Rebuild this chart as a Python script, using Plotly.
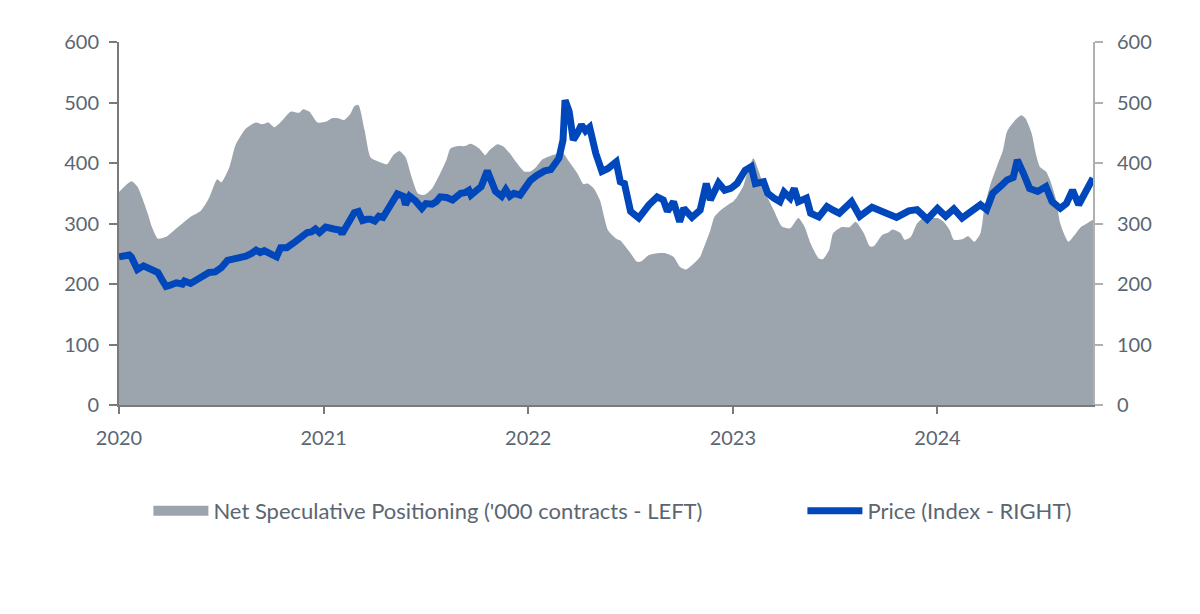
import plotly.graph_objects as go

# net speculative positioning ('000 contracts), x in decimal years
pos_t = [2020.00, 2020.06, 2020.09, 2020.14, 2020.16, 2020.19, 2020.23, 2020.27, 2020.31, 2020.35,
         2020.40, 2020.44, 2020.48, 2020.50, 2020.54, 2020.57, 2020.62, 2020.67, 2020.70, 2020.73,
         2020.76, 2020.80, 2020.84, 2020.88, 2020.90, 2020.93, 2020.97, 2021.01, 2021.04, 2021.07,
         2021.10, 2021.13, 2021.15, 2021.17, 2021.20, 2021.23, 2021.27, 2021.31, 2021.34, 2021.37,
         2021.40, 2021.43, 2021.46, 2021.49, 2021.53, 2021.57, 2021.60, 2021.62, 2021.66, 2021.69,
         2021.72, 2021.76, 2021.79, 2021.81, 2021.85, 2021.88, 2021.91, 2021.94, 2021.98, 2022.01,
         2022.04, 2022.07, 2022.11, 2022.13, 2022.17, 2022.20, 2022.24, 2022.27, 2022.29, 2022.32,
         2022.35, 2022.39, 2022.43, 2022.45, 2022.50, 2022.53, 2022.55, 2022.59, 2022.63, 2022.67,
         2022.71, 2022.74, 2022.77, 2022.80, 2022.84, 2022.86, 2022.89, 2022.91, 2022.94, 2022.98,
         2023.00, 2023.02, 2023.05, 2023.07, 2023.10, 2023.13, 2023.16, 2023.20, 2023.24, 2023.28,
         2023.32, 2023.35, 2023.38, 2023.42, 2023.44, 2023.47, 2023.49, 2023.53, 2023.57, 2023.60,
         2023.64, 2023.67, 2023.69, 2023.73, 2023.76, 2023.78, 2023.82, 2023.84, 2023.87, 2023.90,
         2023.94, 2023.97, 2024.00, 2024.03, 2024.06, 2024.08, 2024.12, 2024.15, 2024.18, 2024.21,
         2024.23, 2024.26, 2024.29, 2024.32, 2024.34, 2024.38, 2024.41, 2024.43, 2024.46, 2024.48,
         2024.50, 2024.53, 2024.55, 2024.58, 2024.60, 2024.64, 2024.67, 2024.70, 2024.73, 2024.76]
positioning = [352, 370, 361, 317, 295, 275, 278, 289, 300, 311,
               321, 342, 373, 368, 394, 430, 457, 467, 464, 467,
               459, 471, 485, 483, 489, 485, 467, 468, 474, 474,
               471, 481, 494, 496, 455, 409, 402, 398, 413, 420,
               410, 377, 350, 347, 358, 383, 405, 424, 428, 428,
               432, 424, 413, 421, 431, 427, 416, 402, 386, 386,
               394, 406, 412, 414, 416, 402, 383, 365, 366, 358,
               339, 289, 275, 272, 251, 237, 237, 248, 251, 251,
               245, 229, 224, 231, 245, 262, 289, 311, 322, 332,
               336, 344, 361, 383, 408, 383, 350, 322, 295, 292,
               309, 295, 267, 242, 241, 256, 284, 294, 294, 303,
               284, 262, 263, 281, 285, 290, 284, 273, 278, 300,
               311, 309, 309, 303, 289, 273, 274, 279, 270, 284,
               328, 366, 394, 421, 452, 471, 479, 474, 449, 416,
               394, 386, 372, 339, 300, 270, 281, 294, 300, 306]

# price index
price_t = [2020.00, 2020.05, 2020.06, 2020.08, 2020.09, 2020.12, 2020.14, 2020.17, 2020.19, 2020.21,
           2020.23, 2020.25, 2020.28, 2020.31, 2020.32, 2020.35, 2020.38, 2020.40, 2020.44, 2020.47,
           2020.50, 2020.53, 2020.57, 2020.62, 2020.65, 2020.67, 2020.69, 2020.71, 2020.75, 2020.77,
           2020.79, 2020.82, 2020.85, 2020.88, 2020.92, 2020.94, 2020.96, 2020.98, 2021.01, 2021.05,
           2021.08, 2021.09, 2021.12, 2021.15, 2021.17, 2021.19, 2021.21, 2021.23, 2021.25, 2021.27,
           2021.29, 2021.32, 2021.34, 2021.36, 2021.39, 2021.40, 2021.42, 2021.45, 2021.48, 2021.50,
           2021.53, 2021.55, 2021.57, 2021.60, 2021.63, 2021.67, 2021.69, 2021.71, 2021.72, 2021.75,
           2021.77, 2021.80, 2021.82, 2021.84, 2021.87, 2021.89, 2021.91, 2021.93, 2021.96, 2021.98,
           2022.01, 2022.04, 2022.06, 2022.08, 2022.11, 2022.13, 2022.15, 2022.17, 2022.18, 2022.20,
           2022.22, 2022.24, 2022.26, 2022.28, 2022.30, 2022.33, 2022.36, 2022.39, 2022.43, 2022.45,
           2022.47, 2022.50, 2022.54, 2022.59, 2022.63, 2022.66, 2022.68, 2022.71, 2022.74, 2022.76,
           2022.80, 2022.84, 2022.87, 2022.89, 2022.93, 2022.96, 2022.99, 2023.02, 2023.06, 2023.09,
           2023.11, 2023.15, 2023.17, 2023.20, 2023.23, 2023.25, 2023.28, 2023.30, 2023.32, 2023.36,
           2023.38, 2023.42, 2023.46, 2023.49, 2023.52, 2023.58, 2023.62, 2023.68, 2023.72, 2023.76,
           2023.80, 2023.86, 2023.90, 2023.95, 2024.00, 2024.04, 2024.08, 2024.12, 2024.17, 2024.21,
           2024.24, 2024.27, 2024.31, 2024.34, 2024.37, 2024.39, 2024.42, 2024.45, 2024.49, 2024.53,
           2024.56, 2024.60, 2024.63, 2024.66, 2024.69, 2024.73, 2024.76]
price = [245, 248, 245, 229, 224, 230, 226, 222, 219, 207,
         196, 198, 202, 200, 205, 201, 208, 211, 219, 220,
         227, 239, 241, 246, 251, 256, 252, 255, 248, 245,
         260, 260, 267, 275, 285, 286, 291, 285, 294, 291,
         289, 283, 303, 318, 320, 305, 307, 307, 304, 312,
         310, 325, 339, 349, 345, 331, 345, 337, 325, 333,
         332, 336, 344, 343, 339, 350, 351, 355, 347, 355,
         361, 387, 369, 353, 345, 356, 345, 350, 347, 358,
         371, 379, 383, 387, 389, 397, 408, 438, 504, 485,
         438, 449, 463, 453, 459, 416, 386, 391, 402, 369,
         366, 320, 309, 331, 344, 339, 320, 336, 303, 325,
         310, 322, 366, 339, 367, 355, 358, 366, 388, 394,
         366, 369, 350, 342, 336, 352, 342, 358, 336, 342,
         317, 311, 328, 322, 317, 336, 312, 327, 322, 318,
         310, 321, 323, 307, 325, 312, 324, 309, 321, 331,
         323, 350, 362, 372, 376, 405, 383, 358, 353, 361,
         336, 325, 333, 355, 331, 355, 375]

year_ticks = [2020, 2021, 2022, 2023, 2024]
y_ticks = [0, 100, 200, 300, 400, 500, 600]

txt = '#5b6672'
area_col = '#9ca5ad'
font = dict(family='Lato', size=20, color=txt)
legend_font = dict(family='Lato', size=22, color=txt)

fig = go.Figure()
fig.add_trace(go.Scatter(
    x=pos_t, y=positioning, name="Net Speculative Positioning ('000 contracts - LEFT)",
    mode='lines', fill='tozeroy', fillcolor=area_col,
    line=dict(width=0, color=area_col, shape='spline', smoothing=0.6),
    yaxis='y', showlegend=False))
# legend swatch for the area (plotly's fill swatch is very thin)
fig.add_trace(go.Scatter(
    x=[None], y=[None], name="Net Speculative Positioning ('000 contracts - LEFT)",
    mode='lines', line=dict(width=14, color=area_col), legend='legend'))
fig.add_trace(go.Scatter(
    x=price_t, y=price, name='Price (Index - RIGHT)',
    mode='lines', line=dict(width=7, color='#0047bb'),
    yaxis='y2', legend='legend2'))

legend_common = dict(orientation='h', xref='container', yref='container', xanchor='left',
                     y=0.181, yanchor='middle', font=legend_font, itemwidth=55,
                     bgcolor='rgba(0,0,0,0)')

fig.update_layout(
    width=1200, height=614,
    margin=dict(l=111, r=115, t=34, b=217),
    plot_bgcolor='white', paper_bgcolor='white',
    font=font,
    xaxis=dict(range=[2020, 2024.76], tickvals=year_ticks, ticktext=[str(y) for y in year_ticks],
               showgrid=False, zeroline=False, showline=True, linecolor='#7a7a7a', linewidth=2,
               ticks='outside', ticklen=7, tickwidth=2, tickcolor='#7a7a7a',
               ticklabelstandoff=7),
    yaxis=dict(range=[0, 600], tickvals=y_ticks, showgrid=False, zeroline=False,
               showline=True, linecolor='#7a7a7a', linewidth=2,
               ticks='outside', ticklen=8, tickwidth=2, tickcolor='#7a7a7a',
               ticklabelstandoff=6),
    yaxis2=dict(range=[0, 600], tickvals=y_ticks, overlaying='y', side='right',
                showgrid=False, zeroline=False, showline=True, linecolor='#b0b0b0', linewidth=2,
                ticks='outside', ticklen=8, tickwidth=2, tickcolor='#b0b0b0',
                ticklabelstandoff=10),
    showlegend=True,
    legend=dict(x=0.117, **legend_common),
    legend2=dict(x=0.662, **legend_common),
)

fig.write_html('out.html')
